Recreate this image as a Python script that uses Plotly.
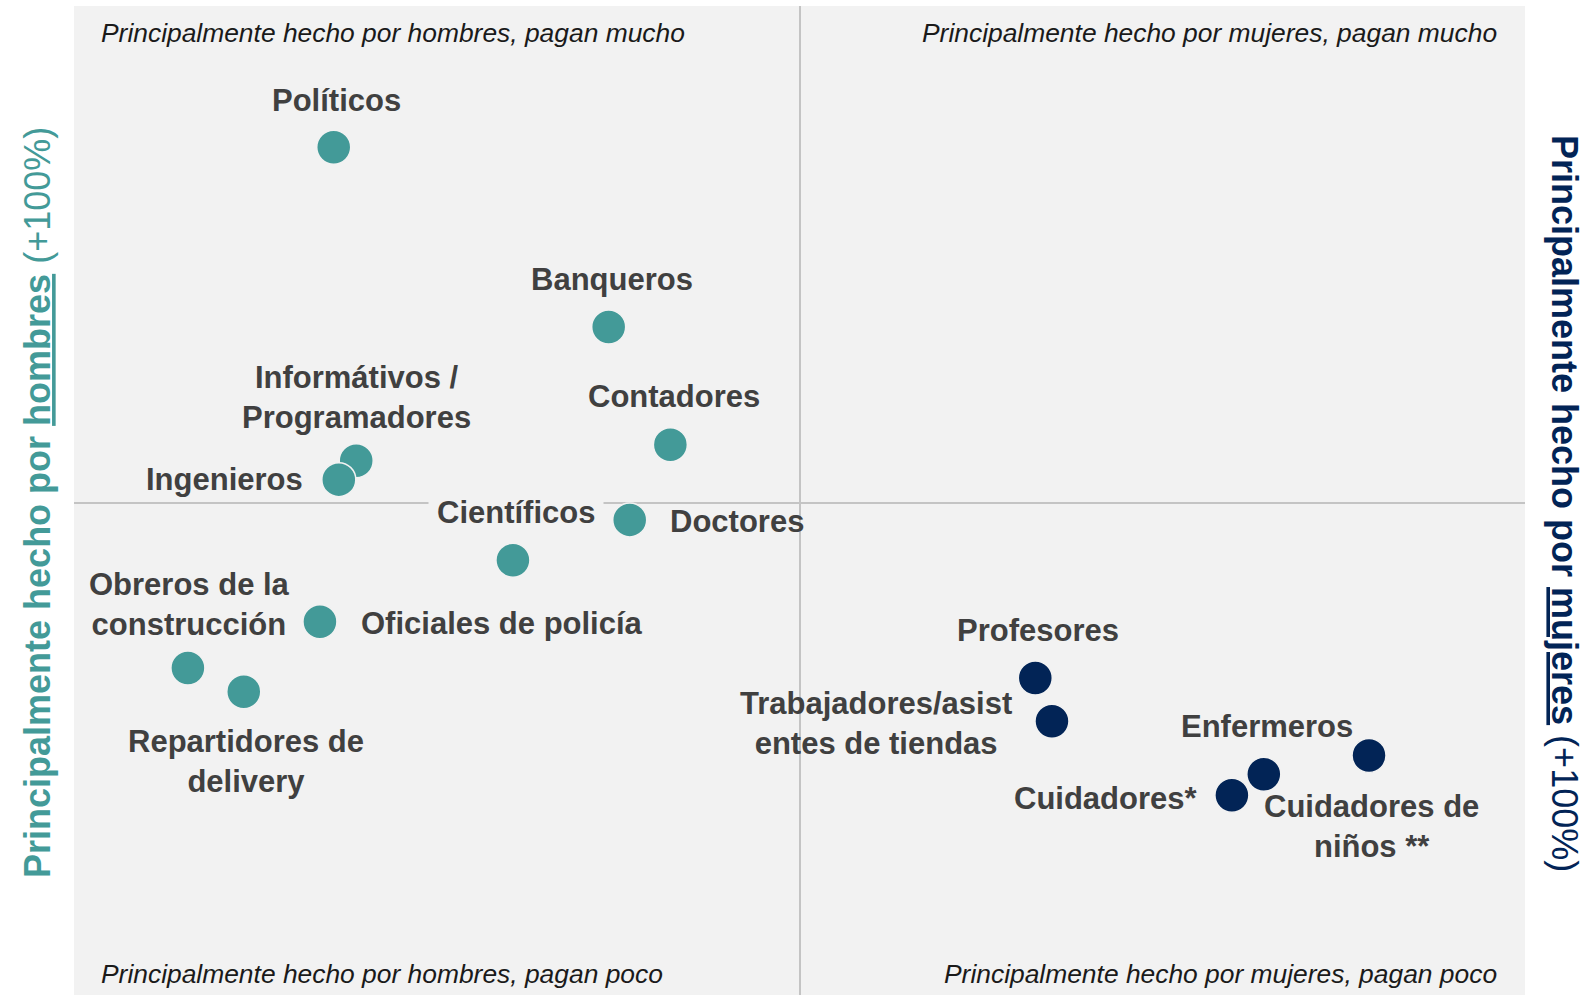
import plotly.graph_objects as go

# Occupations: x = gender mix (negative = mostly men, positive = mostly women)
# y = pay level (positive = pays a lot, negative = pays little)
men_jobs = ["Políticos", "Banqueros", "Informátivos /<br>Programadores", "Contadores",
            "Ingenieros", "Científicos", "Doctores", "Oficiales de policía",
            "Obreros de la<br>construcción", "Repartidores de<br>delivery"]
men_x = [-64.2, -26.3, -61.1, -17.8, -63.5, -39.5, -23.4, -66.1, -84.3, -76.6]
men_y = [71.6, 35.4, 8.5, 11.7, 4.7, -11.5, -3.4, -23.9, -33.2, -38.0]

women_jobs = ["Profesores", "Trabajadores/asist<br>entes de tiendas", "Enfermeros",
              "Cuidadores de<br>niños **", "Cuidadores*"]
women_x = [32.5, 34.8, 64.0, 78.5, 59.6]
women_y = [-35.2, -43.9, -54.6, -50.8, -58.8]

quadrant_labels = ["Principalmente hecho por hombres, pagan mucho",
                   "Principalmente hecho por mujeres, pagan mucho",
                   "Principalmente hecho por hombres, pagan poco",
                   "Principalmente hecho por mujeres, pagan poco"]

# label placement (layout only): (xanchor, xshift, yshift)
men_label_pos = [("center", 3, 47), ("center", 3, 48), ("center", 0, 63), ("center", 4, 48),
                 ("right", -34, 0), ("center", 3, 48), ("left", 38, -2), ("left", 39, -2),
                 ("center", 2, 63), ("center", 2, -70)]
women_label_pos = [("center", 3, 47), ("center", -176, -2), ("center", 3, 48),
                   ("center", 2, -71), ("right", -32, -3)]

TEAL = "#439a98"
NAVY = "#022456"
LABEL = "#404040"
FONT = "Liberation Sans, Arial, sans-serif"

fig = go.Figure()
fig.add_trace(go.Scatter(x=men_x, y=men_y, mode="markers",
                         marker=dict(size=34, color=TEAL, line=dict(width=1.5, color="#f2f2f2")),
                         hoverinfo="skip", showlegend=False))
fig.add_trace(go.Scatter(x=women_x, y=women_y, mode="markers",
                         marker=dict(size=34, color=NAVY, line=dict(width=1.5, color="#f2f2f2")),
                         hoverinfo="skip", showlegend=False))

annotations = []
for jobs, xs, ys, pos in [(men_jobs, men_x, men_y, men_label_pos),
                          (women_jobs, women_x, women_y, women_label_pos)]:
    for j, xv, yv, (anc, dx, dy) in zip(jobs, xs, ys, pos):
        a = dict(x=xv, y=yv, xref="x", yref="y", text=j, showarrow=False,
                 xanchor=anc, yanchor="middle", xshift=dx, yshift=dy, align="center",
                 font=dict(family=FONT, size=31, color=LABEL, weight="bold"))
        if j == "Científicos":
            a["bgcolor"] = "#f2f2f2"
            a["borderpad"] = 8
        annotations.append(a)

qfont = dict(family=FONT, size=26.4, color="#1a1a1a", style="italic")
annotations += [
    dict(x=0.0172, y=0.9727, xref="paper", yref="paper", text=quadrant_labels[0],
         showarrow=False, xanchor="left", yanchor="middle", font=qfont),
    dict(x=0.982, y=0.9727, xref="paper", yref="paper", text=quadrant_labels[1],
         showarrow=False, xanchor="right", yanchor="middle", font=qfont),
    dict(x=0.0172, y=0.0212, xref="paper", yref="paper", text=quadrant_labels[2],
         showarrow=False, xanchor="left", yanchor="middle", font=qfont),
    dict(x=0.982, y=0.0212, xref="paper", yref="paper", text=quadrant_labels[3],
         showarrow=False, xanchor="right", yanchor="middle", font=qfont),
    dict(x=-0.0248, y=0.4975, xref="paper", yref="paper",
         text="<b>Principalmente hecho por <u>hombres</u></b> (+100%)",
         textangle=-90, showarrow=False, xanchor="center", yanchor="middle",
         font=dict(family=FONT, size=36, color=TEAL)),
    dict(x=1.0269, y=0.4975, xref="paper", yref="paper",
         text="<b>Principalmente hecho por <u>mujeres</u></b> (+100%)",
         textangle=90, showarrow=False, xanchor="center", yanchor="middle",
         font=dict(family=FONT, size=36, color=NAVY)),
]

fig.update_layout(
    width=1596, height=995, autosize=False,
    margin=dict(l=74, r=71, t=6, b=0),
    paper_bgcolor="white", plot_bgcolor="#f2f2f2",
    annotations=annotations,
    xaxis=dict(range=[-100, 100], showgrid=False, showticklabels=False, ticks="",
               zeroline=True, zerolinecolor="#c4c4c4", zerolinewidth=2, fixedrange=True),
    yaxis=dict(range=[-99, 100], showgrid=False, showticklabels=False, ticks="",
               zeroline=True, zerolinecolor="#c4c4c4", zerolinewidth=2, fixedrange=True),
)

fig.write_html("out.html", post_script="document.body.style.margin='0';",
               config={"displayModeBar": False})
